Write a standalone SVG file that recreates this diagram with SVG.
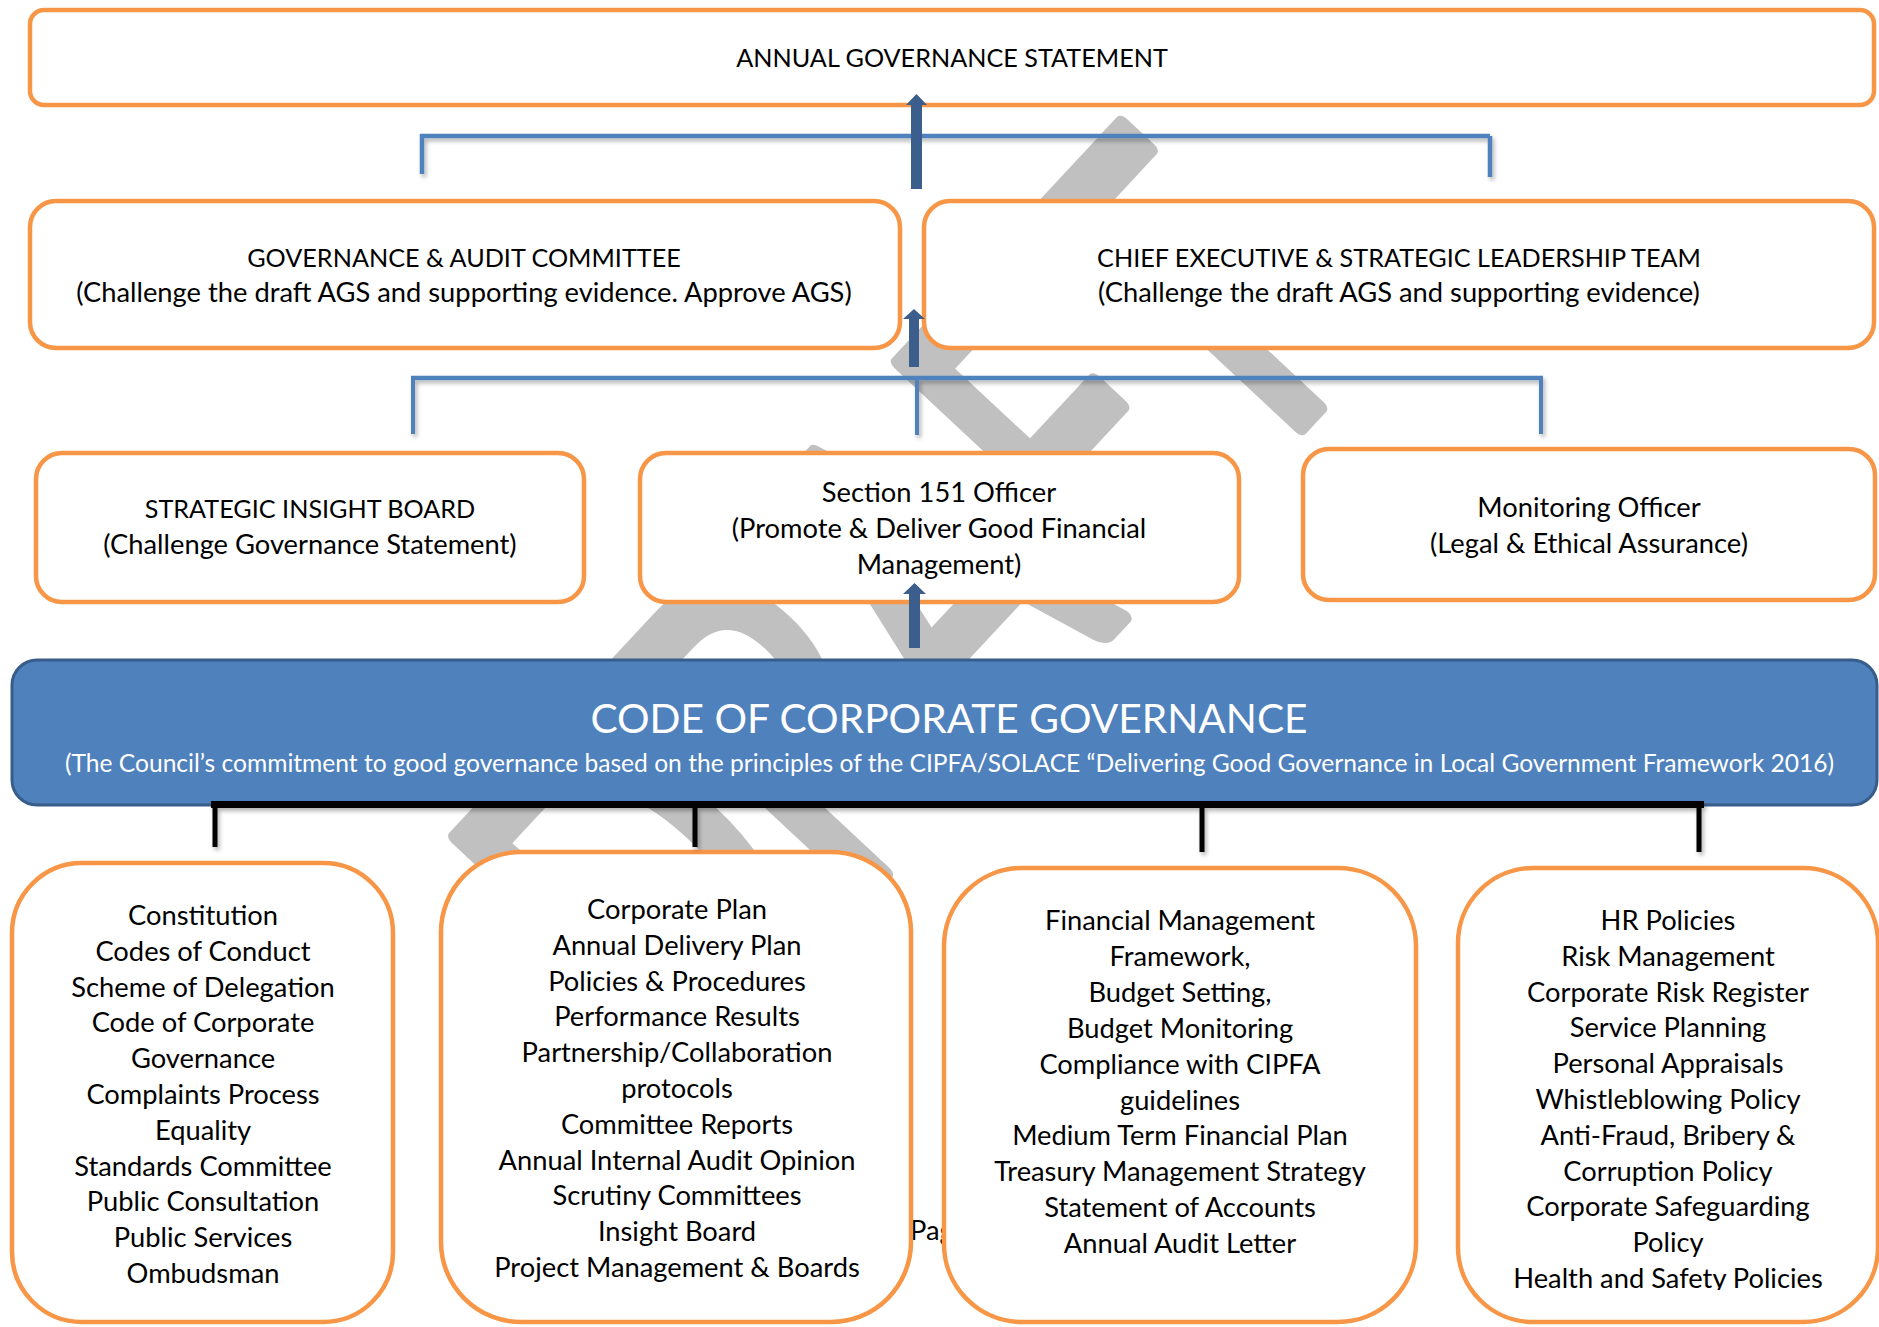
<svg xmlns="http://www.w3.org/2000/svg" width="1879" height="1327" viewBox="0 0 1879 1327">
<defs>
<style>
.box{fill:#fff;stroke:#F79646;stroke-width:4.5}
.t{font-family:Lato,"Open Sans",sans-serif;font-size:27.3px;fill:#000;text-anchor:middle}
.c{font-size:25.2px}
.blue{fill:none;stroke:#4F81BD;stroke-width:4.5}
.drop{fill:none;stroke:#4F81BD;stroke-width:4}
.arr{fill:#3B5E8C}
.wm{font-family:Lato,sans-serif;fill:#C0C0C0;stroke:#C0C0C0;stroke-width:10;stroke-linejoin:round}
</style>
<filter id="sh" filterUnits="userSpaceOnUse" x="0" y="0" width="1879" height="1327"><feDropShadow dx="2" dy="3" stdDeviation="2" flood-color="#000" flood-opacity="0.3"/></filter>
<clipPath id="clipD"><rect x="1400" y="860" width="479" height="430"/></clipPath>
</defs>
<rect width="1879" height="1327" fill="#fff"/>
<g id="watermark">
<text class="wm" transform="translate(1028,720) rotate(-47) scale(1.066,1.6)" x="0" y="0" text-anchor="middle" font-size="295">DRAFT</text>
</g>
<text class="t" x="910" y="1240" style="text-anchor:start">Pag</text>
<g id="node-ags">
<rect class="box" x="30" y="10" width="1844" height="95" rx="14"/>
<text class="t c" x="952" y="67">ANNUAL GOVERNANCE STATEMENT</text>
</g>
<g id="node-gac">
<rect class="box" x="30" y="201" width="870" height="147" rx="26"/>
<text class="t c" x="464" y="266.5">GOVERNANCE &amp; AUDIT COMMITTEE</text>
<text class="t" x="464" y="302.3">(Challenge the draft AGS and supporting evidence. Approve AGS)</text>
</g>
<g id="node-ceslt">
<rect class="box" x="924" y="201" width="950" height="147" rx="26"/>
<text class="t c" x="1399" y="266.5">CHIEF EXECUTIVE &amp; STRATEGIC LEADERSHIP TEAM</text>
<text class="t" x="1399" y="302.3">(Challenge the draft AGS and supporting evidence)</text>
</g>
<g id="node-sib">
<rect class="box" x="36" y="453" width="548" height="149" rx="26"/>
<text class="t c" x="310" y="518">STRATEGIC INSIGHT BOARD</text>
<text class="t" x="310" y="554">(Challenge Governance Statement)</text>
</g>
<g id="node-s151">
<rect class="box" x="640" y="453" width="599" height="149" rx="26"/>
<text class="t" x="939" y="502">Section 151 Officer</text>
<text class="t" x="939" y="538">(Promote &amp; Deliver Good Financial</text>
<text class="t" x="939" y="574">Management)</text>
</g>
<g id="node-mo">
<rect class="box" x="1303" y="449" width="572" height="151" rx="26"/>
<text class="t" x="1589" y="517">Monitoring Officer</text>
<text class="t" x="1589" y="553">(Legal &amp; Ethical Assurance)</text>
</g>
<g id="node-ccg">
<rect x="12" y="660" width="1865" height="145" rx="25" fill="#4F81BD" stroke="#385D8A" stroke-width="3"/>
<text x="949" y="733" text-anchor="middle" font-family="Lato,sans-serif" font-size="40.7" fill="#fff">CODE OF CORPORATE GOVERNANCE</text>
<text x="949.5" y="772" text-anchor="middle" font-family="Lato,sans-serif" font-size="24.6" fill="#fff">(The Council’s commitment to good governance based on the principles of the CIPFA/SOLACE “Delivering Good Governance in Local Government Framework 2016)</text>
</g>
<g id="node-a">
<rect class="box" x="12" y="863" width="381" height="459" rx="70"/>
<text class="t" x="203"><tspan x="203" y="925">Constitution</tspan><tspan x="203" y="960.8">Codes of Conduct</tspan><tspan x="203" y="996.6">Scheme of Delegation</tspan><tspan x="203" y="1032.4">Code of Corporate</tspan><tspan x="203" y="1068.2">Governance</tspan><tspan x="203" y="1104">Complaints Process</tspan><tspan x="203" y="1139.8">Equality</tspan><tspan x="203" y="1175.6">Standards Committee</tspan><tspan x="203" y="1211.4">Public Consultation</tspan><tspan x="203" y="1247.2">Public Services</tspan><tspan x="203" y="1283">Ombudsman</tspan></text>
</g>
<g id="node-b">
<rect class="box" x="441" y="852" width="470" height="470" rx="80"/>
<text class="t" x="677"><tspan x="677" y="919">Corporate Plan</tspan><tspan x="677" y="954.8">Annual Delivery Plan</tspan><tspan x="677" y="990.6">Policies &amp; Procedures</tspan><tspan x="677" y="1026.4">Performance Results</tspan><tspan x="677" y="1062.2">Partnership/Collaboration</tspan><tspan x="677" y="1098">protocols</tspan><tspan x="677" y="1133.8">Committee Reports</tspan><tspan x="677" y="1169.6">Annual Internal Audit Opinion</tspan><tspan x="677" y="1205.4">Scrutiny Committees</tspan><tspan x="677" y="1241.2">Insight Board</tspan><tspan x="677" y="1277">Project Management &amp; Boards</tspan></text>
</g>
<g id="node-c">
<rect class="box" x="944" y="868" width="472" height="454" rx="78"/>
<text class="t" x="1180"><tspan x="1180" y="930">Financial Management</tspan><tspan x="1180" y="965.9">Framework,</tspan><tspan x="1180" y="1001.8">Budget Setting,</tspan><tspan x="1180" y="1037.7">Budget Monitoring</tspan><tspan x="1180" y="1073.6">Compliance with CIPFA</tspan><tspan x="1180" y="1109.5">guidelines</tspan><tspan x="1180" y="1145.4">Medium Term Financial Plan</tspan><tspan x="1180" y="1181.3">Treasury Management Strategy</tspan><tspan x="1180" y="1217.2">Statement of Accounts</tspan><tspan x="1180" y="1253">Annual Audit Letter</tspan></text>
</g>
<g id="node-d">
<rect class="box" x="1458" y="868" width="420" height="454" rx="75"/>
<text class="t" x="1668" clip-path="url(#clipD)"><tspan x="1668" y="930">HR Policies</tspan><tspan x="1668" y="965.8">Risk Management</tspan><tspan x="1668" y="1001.6">Corporate Risk Register</tspan><tspan x="1668" y="1037.4">Service Planning</tspan><tspan x="1668" y="1073.2">Personal Appraisals</tspan><tspan x="1668" y="1109">Whistleblowing Policy</tspan><tspan x="1668" y="1144.8">Anti-Fraud, Bribery &amp;</tspan><tspan x="1668" y="1180.6">Corruption  Policy</tspan><tspan x="1668" y="1216.4">Corporate Safeguarding</tspan><tspan x="1668" y="1252.2">Policy</tspan><tspan x="1668" y="1288">Health and Safety Policies</tspan></text>
</g>
<g id="connectors">
<g filter="url(#sh)">
<path class="blue" d="M422,174 V136 H1490"/>
<path class="blue" d="M1490,136 V177"/>
<path class="blue" d="M411,378 H1543"/>
<path class="drop" d="M413,378 V434 M917,378 V435 M1541,378 V434"/>
<path d="M211,804.5 H1704" stroke="#000" stroke-width="7" fill="none"/>
<path d="M215,804 V847 M695,804 V847 M1202,804 V852 M1699,804 V852" stroke="#000" stroke-width="5" fill="none"/>
</g>
<path class="arr" d="M911,189 V105 H906 L916.5,94 L927,105 H922 V189 Z"/>
<path class="arr" d="M909,367 V319 H903 L914,309 L925,319 H919 V367 Z"/>
<path class="arr" d="M909,648 V594 H903 L914.5,583 L926,594 H920 V648 Z"/>
</g>
</svg>
